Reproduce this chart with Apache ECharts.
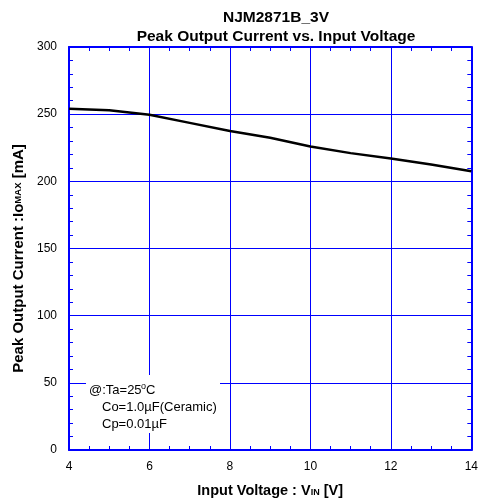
<!DOCTYPE html>
<html><head><meta charset="utf-8">
<script src="https://cdn.jsdelivr.net/npm/echarts@6/dist/echarts.min.js"></script>
<style>html,body{margin:0;padding:0;background:#fff}#c{width:481px;height:503px}</style>
</head><body><div id="c"></div>
<script>
const voltage = [4, 5, 6, 7, 8, 9, 10, 11, 12, 13, 14];
const current = [254, 253, 249.5, 243.5, 237.5, 232.5, 226, 221, 217, 212.5, 207.5];
const xTicks = [4, 6, 8, 10, 12, 14];
const yTicks = [0, 50, 100, 150, 200, 250, 300];

const blue = '#0000ff';
const gridBlue = '#0000ff';
const font = 'Liberation Sans, Arial, sans-serif';
const chart = echarts.init(document.getElementById('c'));
const baseAxis = {
  axisLine: {show: true, onZero: false, lineStyle: {color: blue, width: 2}},
  axisTick: {show: true, inside: true, length: 4, lineStyle: {color: blue}},
  minorTick: {show: true, length: 4, lineStyle: {color: blue, width: 1}},
  splitLine: {show: false}
};
const txt = '13px Liberation Sans, Arial, sans-serif';
chart.setOption({
  animation: false,
  backgroundColor: '#fff',
  title: {
    text: 'NJM2871B_3V\nPeak Output Current vs. Input Voltage',
    left: 271, top: 3, textAlign: 'center',
    textStyle: {fontFamily: font, fontSize: 15.5, fontWeight: 'bold', color: '#000', lineHeight: 19}
  },
  grid: {left: 69, right: 8, top: 47, bottom: 52},
  xAxis: [
    Object.assign({}, baseAxis, {
      type: 'value', min: xTicks[0], max: xTicks[xTicks.length - 1], interval: 2, position: 'bottom',
      minorTick: Object.assign({}, baseAxis.minorTick, {splitNumber: 4}),
      splitLine: {show: true, lineStyle: {color: gridBlue, width: 1}},
      axisLabel: {color: '#000', fontFamily: font, fontSize: 12, margin: 11},
      name: '{a|Input Voltage : V}{b|IN}{a| [V]}', nameLocation: 'middle', nameGap: 33,
      nameTextStyle: {rich: {
        a: {fontFamily: font, fontSize: 14.5, fontWeight: 'bold', color: '#000'},
        b: {fontFamily: font, fontSize: 9, fontWeight: 'bold', color: '#000', padding: [5, 0, 0, 0]}
      }}
    }),
    Object.assign({}, baseAxis, {
      type: 'value', min: 4, max: 14, interval: 2, position: 'top',
      minorTick: Object.assign({}, baseAxis.minorTick, {splitNumber: 4}),
      axisLabel: {show: false}
    })
  ],
  yAxis: [
    Object.assign({}, baseAxis, {
      type: 'value', min: yTicks[0], max: yTicks[yTicks.length - 1], interval: 50, position: 'left',
      minorTick: Object.assign({}, baseAxis.minorTick, {splitNumber: 5}),
      splitLine: {show: true, lineStyle: {color: gridBlue, width: 1}},
      axisLabel: {color: '#000', fontFamily: font, fontSize: 12, margin: 12},
      name: '{a|Peak Output Current :Io}{b|MAX}{a| [mA]}', nameLocation: 'middle', nameGap: 42, nameRotate: 90,
      nameTextStyle: {padding: [0, 20, 0, 0], rich: {
        a: {fontFamily: font, fontSize: 15, fontWeight: 'bold', color: '#000'},
        b: {fontFamily: font, fontSize: 9.5, fontWeight: 'bold', color: '#000'}
      }}
    }),
    Object.assign({}, baseAxis, {
      type: 'value', min: 0, max: 300, interval: 50, position: 'right',
      minorTick: Object.assign({}, baseAxis.minorTick, {splitNumber: 5}),
      axisLabel: {show: false}
    })
  ],
  series: [{
    type: 'line', data: voltage.map((v, i) => [v, current[i]]), smooth: false,
    symbol: 'none', lineStyle: {color: '#000', width: 2.5}, z: 5
  }],
  graphic: [{
    type: 'group', left: 86, top: 375, z: 100,
    children: [
      {type: 'rect', z: 100, shape: {x: 0, y: 0, width: 134, height: 58}, style: {fill: '#fff'}},
      {type: 'text', z: 101, x: 3, y: 9, style: {text: '@:Ta=25', font: txt, fill: '#000'}},
      {type: 'text', z: 101, x: 55, y: 7, style: {text: 'o', font: '9px Liberation Sans, Arial, sans-serif', fill: '#000'}},
      {type: 'text', z: 101, x: 60, y: 9, style: {text: 'C', font: txt, fill: '#000'}},
      {type: 'text', z: 101, x: 16, y: 26, style: {text: 'Co=1.0\u00b5F(Ceramic)', font: txt, fill: '#000'}},
      {type: 'text', z: 101, x: 16, y: 43, style: {text: 'Cp=0.01\u00b5F', font: txt, fill: '#000'}}
    ]
  }]
});
</script></body></html>
